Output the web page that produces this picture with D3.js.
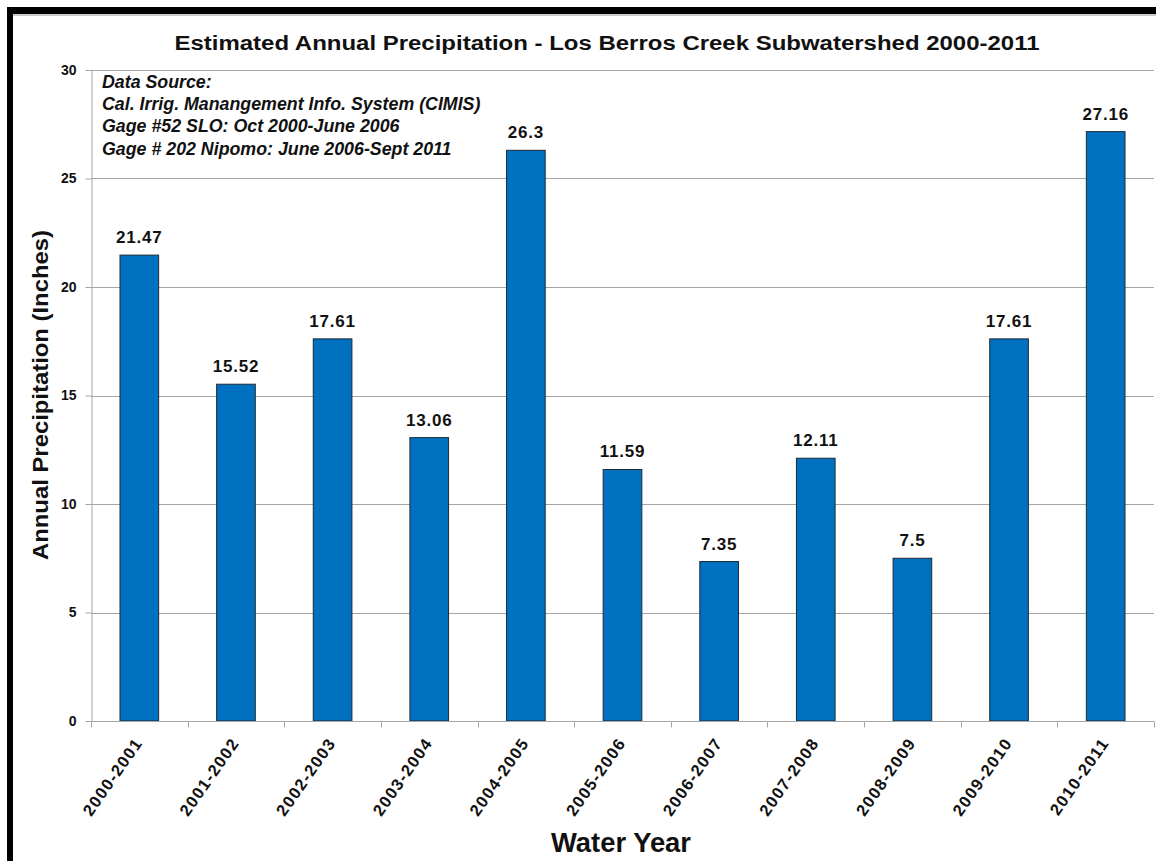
<!DOCTYPE html>
<html>
<head>
<meta charset="utf-8">
<script src="https://cdn.jsdelivr.net/npm/d3@7/dist/d3.min.js"></script>
<style>
  html, body { margin: 0; padding: 0; background: #fff; }
  svg { display: block; font-family: "Liberation Sans", Arial, sans-serif; }
</style>
</head>
<body>
<svg id="chart" width="1156" height="861"></svg>
<script>
// Water years and estimated annual precipitation (inches)
const waterYears = ["2000-2001", "2001-2002", "2002-2003", "2003-2004", "2004-2005", "2005-2006",
                    "2006-2007", "2007-2008", "2008-2009", "2009-2010", "2010-2011"];
const precipitation = [21.47, 15.52, 17.61, 13.06, 26.3, 11.59, 7.35, 12.11, 7.5, 17.61, 27.16];
const yTicks = [0, 5, 10, 15, 20, 25, 30];
const sourceNotes = [
  "Data Source:",
  "Cal. Irrig. Manangement  Info. System (CIMIS)",
  "Gage #52 SLO: Oct 2000-June 2006",
  "Gage # 202 Nipomo: June 2006-Sept 2011"
];
const chartTitle = "Estimated Annual Precipitation - Los Berros Creek Subwatershed 2000-2011";

const svg = d3.select("#chart");
const plot = { left: 91, right: 1154, top: 70, bottom: 721 };

// frame around the figure
svg.append("rect").attr("x", 7).attr("y", 7).attr("width", 1160).attr("height", 7).attr("fill", "#000");
svg.append("rect").attr("x", 7).attr("y", 7).attr("width", 6).attr("height", 870).attr("fill", "#000");
svg.append("line").attr("x1", 13).attr("x2", 1156).attr("y1", 15).attr("y2", 15)
  .attr("stroke", "#b8b8b8").attr("stroke-width", 1.5);

const x = d3.scaleBand().domain(waterYears).range([plot.left, plot.right]).paddingInner(0.6).paddingOuter(0.3);
const xb = d3.scaleBand().domain(waterYears).range([plot.left, plot.right]);
const y = d3.scaleLinear().domain([0, 30]).range([plot.bottom, plot.top]);

// horizontal gridlines
svg.append("g").selectAll("line").data(yTicks.filter(d => d > 0)).join("line")
  .attr("x1", plot.left).attr("x2", plot.right)
  .attr("y1", d => Math.round(y(d)) + 0.5).attr("y2", d => Math.round(y(d)) + 0.5)
  .attr("stroke", "#a6a6a6").attr("stroke-width", 1);

// y axis
const yAxis = svg.append("g").attr("transform", `translate(${plot.left + 0.5},0)`)
  .call(d3.axisLeft(y).tickValues(yTicks).tickSize(6).tickPadding(9).tickSizeOuter(0));
yAxis.select(".domain").attr("stroke", "#a6a6a6");
yAxis.selectAll(".tick line").attr("stroke", "#a6a6a6");
yAxis.selectAll(".tick text").attr("font-size", 14).attr("font-weight", "bold")
  .attr("fill", "#111").attr("font-family", "Liberation Sans, Arial, sans-serif");

// bars
svg.append("g").selectAll("rect").data(precipitation).join("rect")
  .attr("x", (d, i) => x(waterYears[i]))
  .attr("width", x.bandwidth())
  .attr("y", d => y(d))
  .attr("height", d => y(0) - y(d))
  .attr("fill", "#0070C0")
  .attr("stroke", "#1f2a33").attr("stroke-width", 1);

// x axis with tick marks on band boundaries
const xAxisG = svg.append("g").attr("transform", `translate(0,${plot.bottom + 0.5})`);
xAxisG.append("line").attr("x1", plot.left).attr("x2", plot.right)
  .attr("stroke", "#a6a6a6");
const bounds = waterYears.map(d => xb(d)).concat([plot.right]);
xAxisG.selectAll("line.tk").data(bounds).join("line").attr("class", "tk")
  .attr("x1", d => Math.round(d) + 0.5).attr("x2", d => Math.round(d) + 0.5)
  .attr("y1", 0).attr("y2", 6).attr("stroke", "#a6a6a6");

// rotated category labels
svg.append("g").selectAll("text").data(waterYears).join("text")
  .attr("transform", d => `translate(${xb(d) + xb.bandwidth() / 2 + 4},${plot.bottom + 22}) rotate(-55)`)
  .attr("text-anchor", "end")
  .attr("font-size", 16.5).attr("font-weight", "bold").attr("fill", "#111")
  .attr("letter-spacing", 1.3)
  .text(d => d);

// value labels
svg.append("g").selectAll("text").data(precipitation).join("text")
  .attr("x", (d, i) => x(waterYears[i]) + x.bandwidth() / 2)
  .attr("y", d => y(d) - 12)
  .attr("text-anchor", "middle")
  .attr("font-size", 17).attr("font-weight", "bold").attr("fill", "#111")
  .attr("letter-spacing", 0.8)
  .text(d => d);

// title
svg.append("text").attr("x", 607).attr("y", 50).attr("text-anchor", "middle")
  .attr("font-size", 20).attr("font-weight", "bold").attr("fill", "#111")
  .attr("textLength", 865).attr("lengthAdjust", "spacingAndGlyphs")
  .text(chartTitle);

// axis titles
svg.append("text").attr("transform", "translate(48,395) rotate(-90)").attr("text-anchor", "middle")
  .attr("font-size", 22).attr("font-weight", "bold").attr("fill", "#111")
  .attr("textLength", 330).attr("lengthAdjust", "spacingAndGlyphs")
  .text("Annual Precipitation (Inches)");
svg.append("text").attr("x", 621).attr("y", 852).attr("text-anchor", "middle")
  .attr("font-size", 27).attr("font-weight", "bold").attr("fill", "#111")
  .attr("textLength", 140).attr("lengthAdjust", "spacingAndGlyphs")
  .text("Water Year");

// data source note
svg.append("g").selectAll("text").data(sourceNotes).join("text")
  .attr("x", 102).attr("y", (d, i) => 88 + i * 22.2)
  .attr("font-size", 17.8).attr("font-weight", "bold").attr("font-style", "italic").attr("fill", "#111")
  .text(d => d);
</script>
</body>
</html>
